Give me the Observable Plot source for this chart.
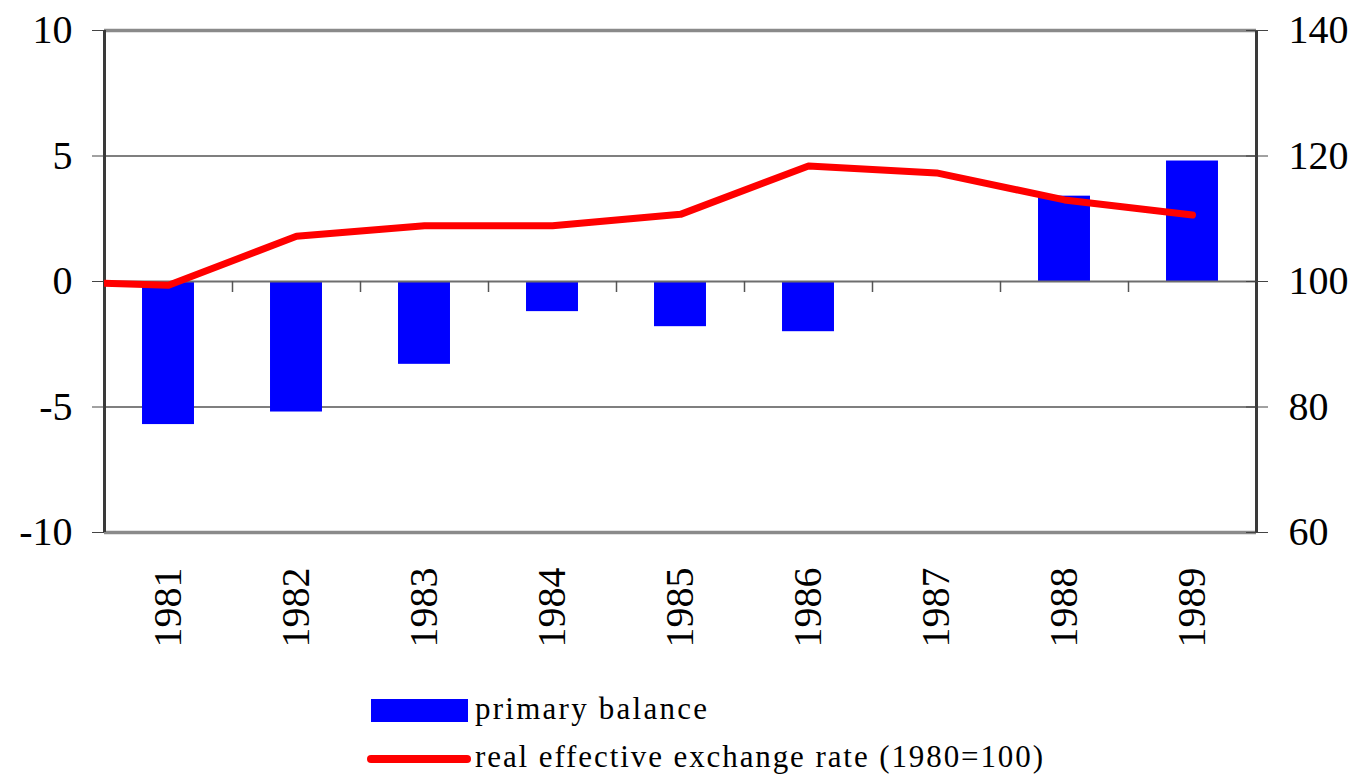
<!DOCTYPE html>
<html>
<head>
<meta charset="utf-8">
<script src="https://cdn.jsdelivr.net/npm/d3@7"></script>
<script src="https://cdn.jsdelivr.net/npm/@observablehq/plot@0.6"></script>
<style>
  html, body { margin: 0; padding: 0; background: #fff; }
  #wrap { position: relative; width: 1356px; height: 775px; overflow: hidden; }
  #legend { position: absolute; left: 0; top: 680px; }
  svg, svg text { font-family: "Liberation Serif", "Times New Roman", Times, serif !important; }
</style>
</head>
<body>
<div id="wrap">
  <div id="chart"></div>
  <svg id="legend" width="1356" height="95">
    <rect x="371" y="19" width="97" height="23" fill="#0000ff"></rect>
    <line x1="371" x2="467" y1="79" y2="79" stroke="#ff0000" stroke-width="8" stroke-linecap="round"></line>
    <text x="475" y="38.5" font-size="31" textLength="232" lengthAdjust="spacing">primary balance</text>
    <text x="475" y="86.5" font-size="31" textLength="568" lengthAdjust="spacing">real effective exchange rate (1980=100)</text>
  </svg>
</div>
<script>
// ---- data ----
const years = [1981, 1982, 1983, 1984, 1985, 1986, 1987, 1988, 1989];
const primaryBalance = [-5.7, -5.2, -3.3, -1.2, -1.8, -2.0, 0, 3.4, 4.8];
const rerYears = [1980, 1981, 1982, 1983, 1984, 1985, 1986, 1987, 1988, 1989];
const realEffectiveRate = [100, 99.4, 107.2, 108.9, 108.9, 110.7, 118.4, 117.3, 113.0, 110.6];
const leftTicks = [-10, -5, 0, 5, 10];
const rightTickLabels = [60, 80, 100, 120, 140];

// ---- derived tables ----
const bars = years.map((y, i) => ({year: y, value: primaryBalance[i]}));
// right axis 60..140 maps onto left axis -10..10
const toLeft = v => (v - 100) / 4;
const rer = rerYears.map((y, i) => ({year: y, value: realEffectiveRate[i]}));
const bounds = years.slice(0, -1).map(y => y + 0.5);
const halfBar = 0.203;
const font = "Liberation Serif";

const chart = Plot.plot({
  width: 1356,
  height: 680,
  marginTop: 30,
  marginBottom: 148,
  marginLeft: 104,
  marginRight: 100,
  style: {fontFamily: font, background: "#fff", color: "#000"},
  x: {type: "linear", domain: [years[0] - 0.5, years[years.length - 1] + 0.5], axis: null},
  y: {domain: [-10, 10], axis: null},
  marks: [
    Plot.ruleY([5, -5], {stroke: "#000", strokeWidth: 1.2}),
    Plot.rect(bars, {x1: d => d.year - halfBar, x2: d => d.year + halfBar, y1: 0, y2: d => d.value, fill: "#0000ff"}),
    Plot.ruleY([0], {stroke: "#6e6e6e", strokeWidth: 2}),
    Plot.ruleX(bounds, {y1: 0, y2: 0, insetBottom: -11, stroke: "#555", strokeWidth: 1.5}),
    Plot.ruleY([10, -10], {stroke: "#8a8a8a", strokeWidth: 3.5}),
    Plot.ruleX([years[0] - 0.5, years[years.length - 1] + 0.5], {stroke: "#3a3a3a", strokeWidth: 3}),
    Plot.line(rer, {x: "year", y: d => toLeft(d.value), stroke: "#ff0000", strokeWidth: 7,
      strokeLinecap: "round", strokeLinejoin: "round", clip: true}),
    Plot.axisY({anchor: "left", ticks: leftTicks, tickSize: 12, tickPadding: 20, fontSize: 40,
      fontFamily: font, stroke: "#444", tickFormat: d => String(d)}),
    Plot.axisY({anchor: "right", ticks: rightTickLabels.map(toLeft), tickSize: 22, dx: -11, tickPadding: 21,
      fontSize: 40, fontFamily: font, stroke: "#444", tickFormat: d => String(d * 4 + 100)}),
    Plot.text(years, {x: d => d, text: d => String(d), frameAnchor: "bottom", rotate: -90,
      textAnchor: "end", lineAnchor: "middle", dy: 35, fontSize: 40, fontFamily: font, fill: "#000"})
  ]
});
document.getElementById("chart").appendChild(chart);
</script>
</body>
</html>
